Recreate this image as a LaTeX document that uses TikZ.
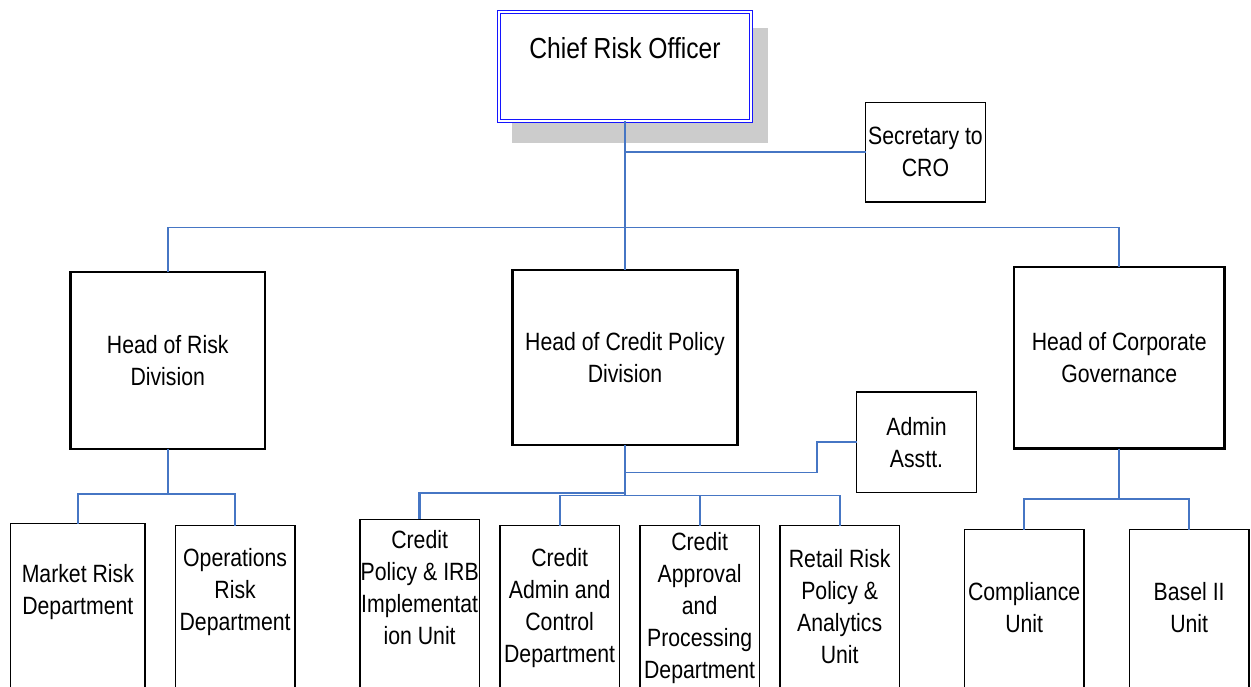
\documentclass[tikz,border=0pt]{standalone}
\usepackage{fontspec}
\newfontfamily\lsn[FakeStretch=0.85]{Liberation Sans}
\definecolor{connblue}{RGB}{70,118,196}
\definecolor{shadowgray}{RGB}{204,204,204}
\definecolor{croblue}{RGB}{20,20,255}
\begin{document}
\begin{tikzpicture}[x=1pt,y=-1pt,
  box/.style={draw=black, line width=1.5pt, fill=white, inner sep=0pt, outer sep=0pt},
  head/.style={box, line width=2.3pt},
  crobox/.style={draw=croblue, line width=1.2pt, double=white, double distance=2pt, fill=white, inner sep=0pt, outer sep=0pt},
  txt/.style={font=\lsn\fontsize{25}{32}\selectfont, align=center, inner sep=0pt},
  lowtxt/.style={font=\lsn\fontsize{25}{32}\selectfont, align=flush center, inner sep=0pt, text width=200pt, anchor=base},
  low/.style={box, minimum width=119.4pt, minimum height=250pt, anchor=north},
  conn/.style={draw=connblue, line width=1.8pt},
  connthick/.style={draw=connblue, line width=2.4pt}]
\useasboundingbox (0,0) rectangle (1251,686);
\clip (0,0) rectangle (1251,686);
\fill[white] (0,0) rectangle (1251,686);

% Chief Risk Officer
\fill[shadowgray] (512,28) rectangle (768,143);
\node[crobox, minimum width=251.6pt, minimum height=108.6pt] (cro) at (625,66.5) {};
\node[txt, font=\lsn\fontsize{29}{34}\selectfont, anchor=base] (crot) at (625,58.3) {Chief Risk Officer};

% Secretary and admin
\node[box, txt, minimum width=119.6pt, minimum height=99.7pt] (sec) at (925.5,152.2) {Secretary to\\CRO};
\node[box, txt, minimum width=119.6pt, minimum height=100.3pt] (adm) at (916.5,442.2) {Admin\\Asstt.};

% Heads
\node[head, txt, minimum width=194.5pt, minimum height=176.4pt] (hr) at (167.75,360.5) {Head of Risk\\Division};
\node[head, txt, minimum width=225pt, minimum height=175pt] (hc) at (625,357.5) {Head of Credit Policy\\Division};
\node[head, txt, minimum width=210.3pt, minimum height=181.2pt] (hg) at (1119.2,357.9) {Head of Corporate\\Governance};

% Lower units
\node[low, minimum width=134.3pt] (mr) at (77.85,523.7) {};
\node[lowtxt] (mrt) at (77.85,582) {Market Risk\\Department};
\node[low] (opr) at (235.15,525.7) {};
\node[lowtxt] (oprt) at (235.15,566.5) {Operations\\Risk\\Department};
\node[low] (cp) at (419.65,519.3) {};
\node[lowtxt] (cpt) at (419.65,548) {Credit\\Policy \& IRB\\Implementat\\ion Unit};
\node[low] (ca) at (559.65,525.7) {};
\node[lowtxt] (cat) at (559.65,566.7) {Credit\\Admin and\\Control\\Department};
\node[low] (cap) at (699.65,525.7) {};
\node[lowtxt] (capt) at (699.65,550) {Credit\\Approval\\and\\Processing\\Department};
\node[low] (rr) at (839.65,525.7) {};
\node[lowtxt] (rrt) at (839.65,567.3) {Retail Risk\\Policy \&\\Analytics\\Unit};
\node[low] (cu) at (1024.15,529.7) {};
\node[lowtxt] (cut) at (1024.15,600) {Compliance\\Unit};
\node[low] (bu) at (1189.15,529.7) {};
\node[lowtxt] (but) at (1189.15,600) {Basel II\\Unit};

% Connectors
\coordinate (topbus) at (625,227.5);
\draw[conn] (cro.south) -- (hc.north);
\draw[conn] (cro.south |- sec.west) -- (sec.west);
\draw[conn] (hr.north) |- (topbus) -| (hg.north);

\coordinate (lbus) at (167.75,493.7);
\draw[conn] (hr.south) -- (lbus);
\draw[conn] (mr.north) |- (lbus) -| (opr.north);

\coordinate (rbus) at (1119.2,499.3);
\draw[conn] (hg.south) -- (rbus);
\draw[conn] (cu.north) |- (rbus) -| (bu.north);

\coordinate (cbus) at (625,495.5);
\coordinate (cbusthick) at (625,493);
\coordinate (aj) at (817,472.5);
\draw[connthick] (hc.south) -- (cbusthick);
\draw[connthick] (cp.north) |- (cbusthick);
\draw[conn] (cbusthick) -- (cbus) -| (ca.north);
\draw[conn] (cbus) -| (cap.north);
\draw[conn] (cbus) -| (rr.north);
\draw[conn] (hc.south |- aj) -- (aj) |- (adm.west);
\end{tikzpicture}
\end{document}
